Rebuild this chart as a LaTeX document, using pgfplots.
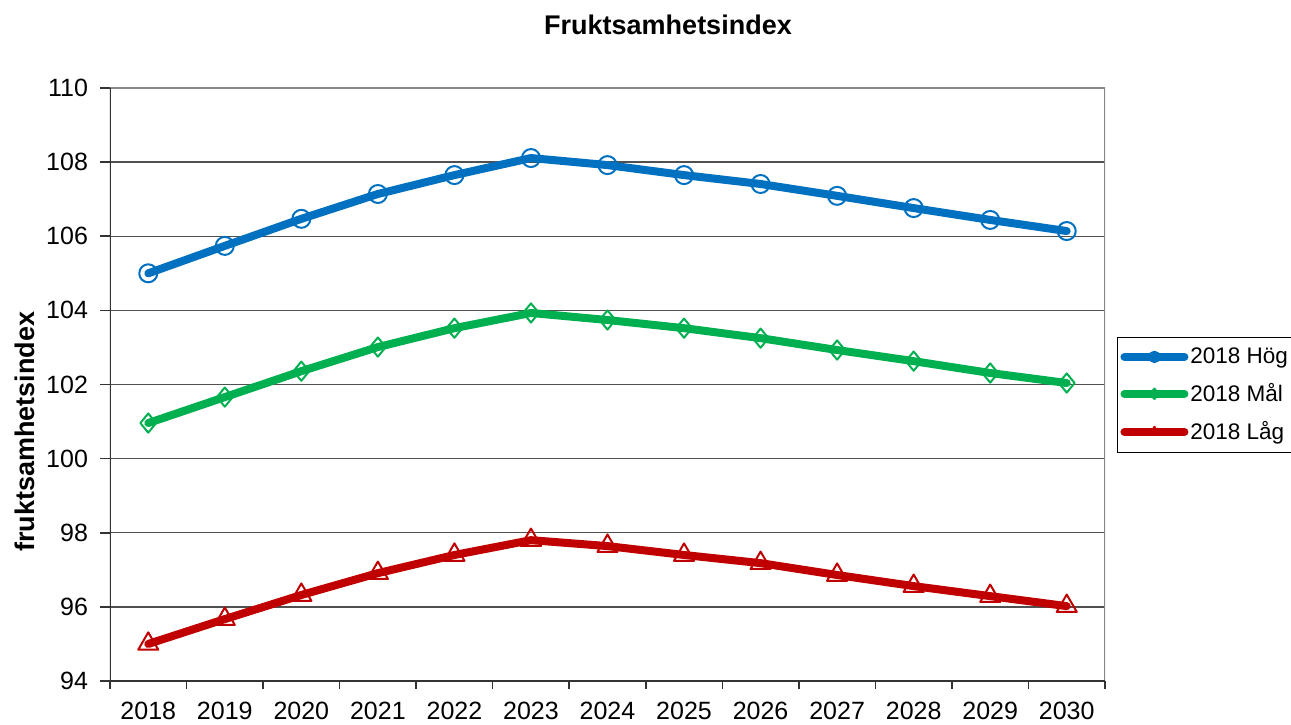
\documentclass[border=0pt]{standalone}
\usepackage{fontspec}
\setmainfont{Liberation Sans}
\usepackage{pgfplots}
\pgfplotsset{compat=1.18}

\definecolor{hog}{RGB}{0,112,192}
\definecolor{mal}{RGB}{0,176,80}
\definecolor{lag}{RGB}{192,0,0}
\definecolor{gridgray}{RGB}{80,80,80}
\definecolor{framegray}{RGB}{136,136,136}

\begin{document}
\begin{tikzpicture}
\useasboundingbox (-55pt,-21.5pt) rectangle (590.5pt,340.5pt);
\begin{axis}[
  at={(0,0)}, anchor=south west,
  scale only axis, width=497.5pt, height=296.5pt,
  xmin=-0.5, xmax=12.5, ymin=94, ymax=110,
  ytick={94,96,...,110},
  xtick={0,...,12},
  xticklabels={2018,2019,2020,2021,2022,2023,2024,2025,2026,2027,2028,2029,2030},
  minor xtick={-0.5,0.5,...,12.5},
  major x tick style={draw=none},
  minor x tick style={draw=black!80, line width=0.8pt},
  major y tick style={draw=black!80, line width=0.8pt},
  xtick pos=bottom, ytick pos=left,
  tick align=outside,
  major tick length=5pt, minor tick length=4pt,
  axis line style={draw=none},
  ymajorgrids,
  major grid style={draw=gridgray, line width=0.7pt},
  /pgf/number format/assume math mode=true,
  ticklabel style={font=\fontsize{12.5}{15}\selectfont},
  yticklabel style={xshift=-2.5pt},
  xticklabel style={yshift=-1.8pt},
  ylabel={fruktsamhetsindex},
  ylabel style={at={(axis description cs:-0.0854,0.42)}, anchor=center,
    font=\bfseries\fontsize{13.5}{16}\selectfont},
  legend style={at={(1.012,0.580)}, anchor=north west, draw=black, line width=0.5pt,
    font=\fontsize{11.25}{13}\selectfont, inner xsep=1.5pt, inner ysep=4pt,
    row sep=6.5pt, nodes={inner sep=1pt}},
  legend cell align=left,
  legend image code/.code={
    \draw[mark repeat=2, mark phase=2, #1, mark size=2.6pt, line width=4pt]
      plot coordinates {(0pt,0pt) (15pt,0pt) (30pt,0pt)};
  },
]
\draw[framegray, line width=1pt] (rel axis cs:0,1) -- (rel axis cs:1,1) -- (rel axis cs:1,0);
\draw[black!80, line width=1pt] (rel axis cs:0,1) -- (rel axis cs:0,0) -- (rel axis cs:1,0);

\addplot[hog, line width=4pt, line cap=round, line join=round, mark=o, mark size=4.5pt,
  mark options={line width=1pt, fill=none, solid}]
  coordinates {(0,105.00) (1,105.74) (2,106.47) (3,107.14) (4,107.65) (5,108.11) (6,107.92)
    (7,107.65) (8,107.41) (9,107.09) (10,106.76) (11,106.44) (12,106.14)};
\addlegendentry{2018 Hög}

\addplot[mal, line width=4pt, line cap=round, line join=round, mark=diamond, mark size=4.8pt,
  mark options={line width=1pt, fill=none, solid, xscale=1.1}]
  coordinates {(0,100.96) (1,101.66) (2,102.36) (3,103.01) (4,103.52) (5,103.93) (6,103.74)
    (7,103.52) (8,103.25) (9,102.93) (10,102.63) (11,102.31) (12,102.04)};
\addlegendentry{2018 Mål}

\addplot[lag, line width=4pt, line cap=round, line join=round, mark=triangle, mark size=5.8pt,
  mark options={line width=1pt, fill=none, solid}]
  coordinates {(0,95.00) (1,95.67) (2,96.32) (3,96.91) (4,97.40) (5,97.80) (6,97.64)
    (7,97.40) (8,97.18) (9,96.86) (10,96.56) (11,96.29) (12,96.02)};
\addlegendentry{2018 Låg}
\end{axis}
\node[font=\bfseries\fontsize{13.5}{16}\selectfont] at (279pt,328pt) {Fruktsamhetsindex};
\end{tikzpicture}
\end{document}
